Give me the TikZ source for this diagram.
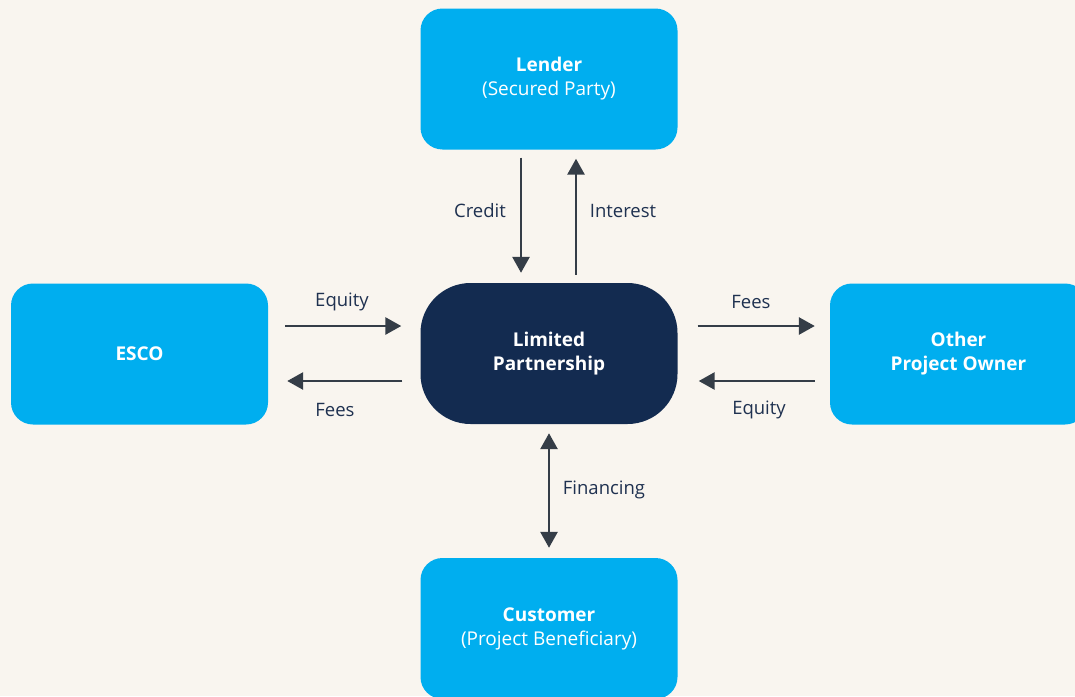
\documentclass[tikz,border=0pt]{standalone}
\usepackage{fontspec}
\setmainfont{Open Sans}
\usetikzlibrary{arrows.meta,calc}
\definecolor{bg}{HTML}{F9F5EF}
\definecolor{cblue}{HTML}{00AEEF}
\definecolor{navy}{HTML}{132B50}
\definecolor{arrc}{HTML}{353D47}
\definecolor{lbl}{HTML}{1F3150}
\tikzset{
  box/.style={rectangle, rounded corners=22pt, fill=cblue, text=white, minimum width=257pt, minimum height=141pt, inner sep=0pt, align=center, font=\fontsize{19}{24}\selectfont},
  core/.style={box, fill=navy, rounded corners=50pt},
  arr/.style={draw=arrc, line width=2.8pt, -{Triangle[length=16pt,width=17pt]}},
  darr/.style={draw=arrc, line width=2.8pt, {Triangle[length=16pt,width=17pt]}-{Triangle[length=16pt,width=17pt]}},
  lab/.style={text=lbl, font=\fontsize{18.5}{20}\selectfont, inner sep=0pt}
}
\begin{document}
\begin{tikzpicture}[x=1pt,y=-1pt]
\fill[bg] (0,0) rectangle (1075,696);
\useasboundingbox (0,0) rectangle (1075,696);
\clip (0,0) rectangle (1075,696);
\node[box] (lender) at (549,79) {\textbf{Lender}\\(Secured Party)\rule[-4pt]{0pt}{0pt}};
\node[box] (esco) at (139.5,354) {\textbf{ESCO}};
\node[box] (other) at (958.5,354) {\textbf{Other}\\\textbf{Project Owner}};
\node[box] (cust) at (549,628.5) {\textbf{Customer}\\(Project Beneficiary)};
\node[core] (lp) at (549,353.5) {\textbf{Limited}\\\textbf{Partnership}};

\draw[arr] ([xshift=-28pt,yshift=-8pt]lender.south) -- ([xshift=-28pt,yshift=10pt]lp.north);
\draw[arr] ([xshift=27pt,yshift=8pt]lp.north) -- ([xshift=27pt,yshift=-9pt]lender.south);
\draw[arr] ([xshift=17pt,yshift=28pt]esco.east) -- ([xshift=-19pt,yshift=27.5pt]lp.west);
\draw[arr] ([xshift=-18pt,yshift=-27.5pt]lp.west) -- ([xshift=19pt,yshift=-27pt]esco.east);
\draw[arr] ([xshift=20pt,yshift=27.5pt]lp.east) -- ([xshift=-15pt,yshift=28pt]other.west);
\draw[arr] ([xshift=-15pt,yshift=-27pt]other.west) -- ([xshift=21pt,yshift=-27.5pt]lp.east);
\draw[darr] ([yshift=-9pt]lp.south) -- ([yshift=10pt]cust.north);

\node[lab] (lcredit) at (480,210.5) {Credit};
\node[lab] (linterest) at (623,210.5) {Interest};
\node[lab] (leq1) at (342,301.5) {Equity};
\node[lab] (lfees1) at (335,409.5) {Fees};
\node[lab] (lfees2) at (751,301.5) {Fees};
\node[lab] (leq2) at (759,409.5) {Equity};
\node[lab] (lfin) at (604,489.5) {Financing};
\end{tikzpicture}
\end{document}
